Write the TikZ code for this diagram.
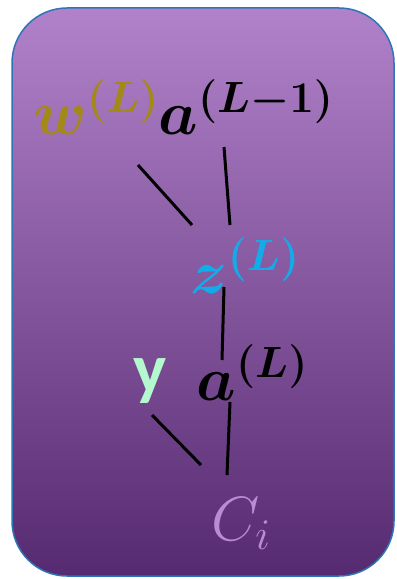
\documentclass[tikz,border=0pt]{standalone}
\usepackage{fix-cm}
\usepackage{bm}
\usepackage{fontspec}
\newfontfamily\carlito{Carlito}
\usetikzlibrary{calc}
\definecolor{panelTop}{RGB}{177,130,202}
\definecolor{panelMid}{RGB}{128,72,164}
\definecolor{panelBot}{RGB}{86,42,112}
\definecolor{panelEdge}{RGB}{46,117,182}
\definecolor{wCol}{RGB}{163,137,24}
\definecolor{zCol}{RGB}{18,172,235}
\definecolor{yCol}{RGB}{180,248,208}
\definecolor{cCol}{RGB}{186,140,212}
\begin{document}
\begin{tikzpicture}[
  x=0.4pt, y=-0.4pt,
  sym/.style={inner sep=0pt, anchor=base west,
              font=\fontsize{25}{30}\selectfont},
  link/.style={line width=1.2pt, black},
]
\useasboundingbox (0,0) rectangle (396,579);

% Panel
\shade[top color=panelTop, middle color=panelMid, bottom color=panelBot,
       rounded corners=22pt] (12,8) rectangle (394,576);
\draw[panelEdge, line width=0.6pt, rounded corners=22pt] (12,8) rectangle (394,576);

% Symbols
\node[sym, text=wCol] (w)  at (33,135)  {$\bm{w^{(L)}}$};
\node[sym]            (a1) at (158,135) {$\bm{a^{(L-1)}}$};
\node[sym, text=zCol] (z)  at (190,293) {$\bm{z^{(L)}}$};
\node[sym, text=yCol, font=\fontsize{28}{34}\selectfont]
                      (y)  at (133,392) {\carlito\bfseries y};
\node[sym]            (a2) at (196,400) {$\bm{a^{(L)}}$};
\node[sym, text=cCol] (C)  at (211,540) {$C_i$};

% Links
\draw[link] ($(w.base west)+(105,30)$)  -- ($(z.base west)+(2,-68)$);
\draw[link] ($(a1.base west)+(66,12)$)  -- ($(z.base west)+(40,-68)$);
\draw[link] ($(z.base west)+(34,-6)$)   -- ($(a2.base west)+(26,-40)$);
\draw[link] ($(y.base west)+(19,23)$)   -- ($(C.base west)+(-10,-75)$);
\draw[link] ($(a2.base west)+(34,2)$)   -- ($(C.base west)+(16,-65)$);

\end{tikzpicture}
\end{document}
